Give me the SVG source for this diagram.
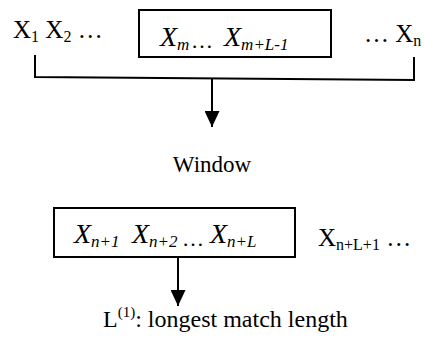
<svg xmlns="http://www.w3.org/2000/svg" width="425" height="350" viewBox="0 0 425 350">
  <style>
    .serif { font-family: 'Liberation Serif', 'Times New Roman', Times, 'DejaVu Serif', serif; fill: #000; }
    .up { font-size: 25px; }
    .it { font-size: 28px; font-style: italic; }
    .dots { font-size: 22px; }
    .sub { font-size: 16px; }
    .isub { font-size: 17px; font-style: italic; }
    .box { fill: #fff; stroke: #000; stroke-width: 2; }
    .wire { fill: none; stroke: #000; stroke-width: 2; }
  </style>
  <defs>
    <marker id="head" viewBox="0 0 16 15" refX="16" refY="7.5" markerWidth="16" markerHeight="15" markerUnits="userSpaceOnUse" orient="auto">
      <path d="M0,0 L16,7.5 L0,15 Z" fill="#000"/>
    </marker>
  </defs>

  <g font-family="Liberation Serif, Times New Roman, serif">
    <!-- full sequence -->
    <g id="sequence">
      <text class="serif up" x="13" y="38">X<tspan class="sub" dy="4">1</tspan><tspan dy="-4"> X</tspan><tspan class="sub" dy="4">2</tspan><tspan dy="-4"> …</tspan></text>
      <text class="serif up" x="364" y="42">… X<tspan class="sub" dy="4">n</tspan></text>
    </g>

    <!-- window box -->
    <g id="window-box">
      <rect class="box" x="139" y="10" width="192" height="47"/>
      <text class="serif it" x="160" y="46">X<tspan class="isub" dy="4">m</tspan></text>
      <text class="serif dots" x="191" y="48">…</text>
      <text class="serif it" x="224" y="46">X<tspan class="isub" dy="4">m+L-1</tspan></text>
    </g>

    <!-- Window label -->
    <g id="window-label">
      <text class="serif" x="212" y="172" text-anchor="middle" font-size="23">Window</text>
    </g>

    <!-- look-ahead box -->
    <g id="lookahead-box">
      <rect class="box" x="54" y="208" width="241" height="49"/>
      <text class="serif it" x="74" y="243">X<tspan class="isub" dy="4">n+1</tspan></text>
      <text class="serif it" x="132" y="243">X<tspan class="isub" dy="4">n+2</tspan></text>
      <text class="serif dots" x="182" y="246">…</text>
      <text class="serif it" x="210" y="243">X<tspan class="isub" dy="4">n+L</tspan></text>
    </g>

    <!-- remaining symbols -->
    <g id="rest">
      <text class="serif up" x="318" y="246">X<tspan class="sub" dy="4">n+L+1</tspan><tspan dy="-4"> …</tspan></text>
    </g>

    <!-- result label -->
    <g id="result">
      <text class="serif" x="103" y="327" font-size="24">L<tspan dy="-10" font-size="15">(1)</tspan><tspan dy="10">: longest match length</tspan></text>
    </g>
  </g>

  <!-- connectors -->
  <g id="connectors">
    <polyline class="wire" points="35,55 35,77 414,80 414,57"/>
    <line class="wire" x1="212" y1="78" x2="212" y2="127" marker-end="url(#head)"/>
    <line class="wire" x1="178" y1="257" x2="178" y2="306" marker-end="url(#head)"/>
  </g>
</svg>
